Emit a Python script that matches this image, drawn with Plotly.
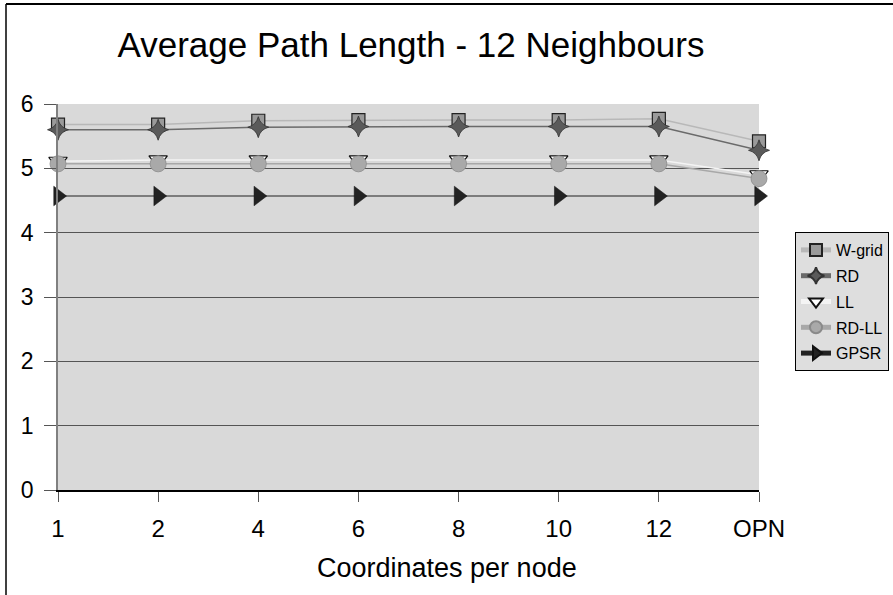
import plotly.graph_objects as go

categories = ["1", "2", "4", "6", "8", "10", "12", "OPN"]
w_grid = [5.68, 5.68, 5.74, 5.75, 5.75, 5.75, 5.77, 5.42]
rd = [5.60, 5.60, 5.64, 5.65, 5.65, 5.65, 5.65, 5.28]
ll = [5.11, 5.13, 5.13, 5.13, 5.13, 5.13, 5.13, 4.90]
rd_ll = [5.07, 5.07, 5.07, 5.07, 5.07, 5.07, 5.07, 4.84]
gpsr = [4.57, 4.57, 4.57, 4.57, 4.57, 4.57, 4.57, 4.57]

W, H = 893, 595
L, R, T, B = 58, 759, 104, 490

fig = go.Figure()
fig.add_trace(go.Scatter(x=categories, y=w_grid, name="W-grid", mode="lines+markers",
                         legendgroup="a",
                         line=dict(color="#b8b8b8", width=1.5),
                         marker=dict(symbol="square", size=13, color="#9a9a9a",
                                     line=dict(color="#222", width=1.2)),
                         cliponaxis=False))
fig.add_trace(go.Scatter(x=categories, y=rd, name="RD", mode="lines+markers",
                         legendgroup="b",
                         line=dict(color="#6a6a6a", width=1.5),
                         marker=dict(symbol="star-diamond", size=15, color="#5a5a5a",
                                     line=dict(color="#333", width=0.8)),
                         cliponaxis=False))
fig.add_trace(go.Scatter(x=categories, y=ll, name="LL", mode="lines+markers",
                         legendgroup="c",
                         line=dict(color="#f4f4f4", width=1.5),
                         marker=dict(symbol="triangle-down", size=16, color="white",
                                     line=dict(color="#111", width=1.2)),
                         cliponaxis=False))
fig.add_trace(go.Scatter(x=categories, y=rd_ll, name="RD-LL", mode="lines+markers",
                         legendgroup="d",
                         line=dict(color="#a8a8a8", width=1.5),
                         marker=dict(symbol="circle", size=16, color="#a9a9a9",
                                     line=dict(color="#8a8a8a", width=0.8)),
                         cliponaxis=False))
fig.add_trace(go.Scatter(x=categories, y=gpsr, name="GPSR", mode="lines+markers",
                         legendgroup="e",
                         line=dict(color="#222", width=1.2),
                         marker=dict(symbol="triangle-right", size=17, color="#222",
                                     line=dict(color="#111", width=0.5)),
                         cliponaxis=False))

def px2x(px):
    return (px - L) / (R - L)

def px2y(py):
    return (B - py) / (B - T)

fig.update_layout(
    width=W, height=H,
    margin=dict(l=L, r=W - R, t=T, b=H - B, pad=0, autoexpand=False),
    paper_bgcolor="white",
    plot_bgcolor="#d9d9d9",
    font=dict(family="Liberation Sans, Arial, sans-serif", color="black"),
    title=dict(text="Average Path Length - 12 Neighbours", x=411 / W, xanchor="center",
               y=1 - 45 / H, yanchor="middle", font=dict(size=35, color="black")),
    xaxis=dict(type="category", range=[0, 7], showgrid=False, zeroline=False,
               showline=True, linecolor="black", linewidth=1.5,
               ticks="outside", ticklen=10, tickcolor="#555", tickwidth=1,
               tickfont=dict(size=24), ticklabelstandoff=6),
    yaxis=dict(range=[0, 6], dtick=1, showgrid=True, gridcolor="#555", gridwidth=1,
               zeroline=False, showline=True, linecolor="#808080", linewidth=1.5,
               ticks="outside", ticklen=12, tickcolor="#555",
               tickfont=dict(size=23), ticklabelstandoff=6),
    legend=dict(x=px2x(795), y=px2y(232), xanchor="left", yanchor="top",
                bgcolor="#dedede", bordercolor="black", borderwidth=1,
                font=dict(size=16), itemwidth=30, itemsizing="constant",
                tracegroupgap=2),
    showlegend=True,
)

fig.add_annotation(text="Coordinates per node", xref="paper", yref="paper",
                   x=px2x(447), y=px2y(568), xanchor="center", yanchor="middle",
                   showarrow=False, font=dict(size=27, color="black"))

# outer chart border (top and left)
fig.add_shape(type="line", xref="paper", yref="paper",
              x0=px2x(6), x1=px2x(W + 5), y0=px2y(4), y1=px2y(4),
              line=dict(color="black", width=2))
fig.add_shape(type="line", xref="paper", yref="paper",
              x0=px2x(6), x1=px2x(6), y0=px2y(4), y1=px2y(H + 5),
              line=dict(color="black", width=1.5))

fig.write_html("out.html")
